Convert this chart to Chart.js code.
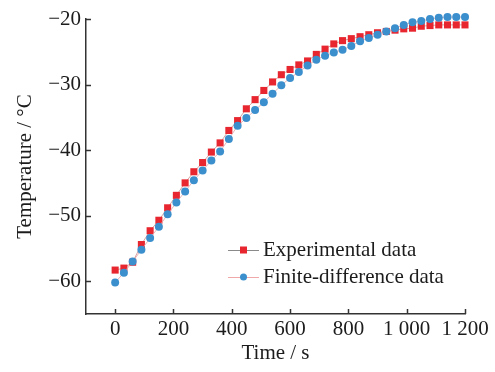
<!DOCTYPE html>
<html>
<head>
<meta charset="utf-8">
<script src="https://cdn.jsdelivr.net/npm/chart.js@4"></script>
<style>
  body { margin: 0; background: #fff; }
  #wrap { width: 495px; height: 372px; }
</style>
</head>
<body>
<div id="wrap"><canvas id="tempChart" width="495" height="372"></canvas></div>
<script>
const times = [0, 30, 60, 90, 120, 150, 180, 210, 240, 270, 300, 330, 360, 390, 420, 450, 480, 510, 540, 570,
    600, 630, 660, 690, 720, 750, 780, 810, 840, 870, 900, 930, 960, 990, 1020, 1050, 1080, 1110, 1140, 1170, 1200];
const experimental = [-58.3, -58.0, -57.1, -54.4, -52.3, -50.7, -48.8, -46.9, -45.0, -43.3, -41.9, -40.3, -38.9, -37.0,
    -35.5, -33.7, -32.3, -30.9, -29.6, -28.5, -27.7, -27.0, -26.4, -25.4, -24.6, -23.8, -23.3, -23.0, -22.7, -22.4,
    -22.1, -21.9, -21.7, -21.5, -21.4, -21.1, -21.0, -20.9, -20.9, -20.9, -20.9];
const finiteDiff = [-60.2, -58.7, -57.0, -55.2, -53.4, -51.7, -49.8, -48.0, -46.3, -44.6, -43.1, -41.6, -40.2, -38.3,
    -36.3, -35.1, -33.9, -32.7, -31.4, -30.1, -29.0, -28.1, -27.1, -26.2, -25.6, -25.1, -24.7, -24.1, -23.4, -22.9,
    -22.4, -21.9, -21.4, -20.9, -20.5, -20.3, -20.0, -19.8, -19.7, -19.7, -19.7];
const xTicks = [0, 200, 400, 600, 800, 1000, 1200];
const yTicks = [-60, -50, -40, -30, -20];

const FONT = "'Liberation Serif', 'Times New Roman', serif";
const INK = '#1c1c1c';
const AXIS = '#333';

function toPoints(ys) {
    return times.map((t, i) => ({ x: t, y: ys[i] }));
}

// tick marks point into the plot, so draw them ourselves
const innerTicks = {
    id: 'innerTicks',
    afterDraw(chart) {
        const { ctx, chartArea: a, scales } = chart;
        ctx.save();
        ctx.strokeStyle = AXIS;
        ctx.lineWidth = 1.5;
        scales.x.ticks.forEach(t => {
            const px = Math.round(scales.x.getPixelForValue(t.value)) + 0.5;
            ctx.beginPath(); ctx.moveTo(px, a.bottom); ctx.lineTo(px, a.bottom - 5); ctx.stroke();
        });
        scales.y.ticks.forEach(t => {
            const py = Math.round(scales.y.getPixelForValue(t.value)) + 0.5;
            ctx.beginPath(); ctx.moveTo(a.left, py); ctx.lineTo(a.left + 5, py); ctx.stroke();
        });
        ctx.restore();
    }
};

// legend sits inside the plot, lower right
const insideLegend = {
    id: 'insideLegend',
    afterDraw(chart) {
        const ctx = chart.ctx;
        const rows = [250, 277];
        ctx.save();
        chart.data.datasets.forEach((ds, i) => {
            const y = rows[i];
            ctx.strokeStyle = ds.legendLine;
            ctx.lineWidth = 1;
            ctx.beginPath(); ctx.moveTo(228, y + 0.5); ctx.lineTo(259, y + 0.5); ctx.stroke();
            ctx.fillStyle = ds.backgroundColor;
            if (ds.pointStyle === 'rect') {
                ctx.fillRect(240, y - 3.5, 7, 7);
            } else {
                ctx.beginPath(); ctx.arc(243.5, y, 3.5, 0, Math.PI * 2); ctx.fill();
            }
            ctx.fillStyle = INK;
            ctx.font = '21px ' + FONT;
            ctx.textBaseline = 'middle';
            ctx.fillText(ds.label, 263, y);
        });
        ctx.restore();
    }
};

new Chart(document.getElementById('tempChart').getContext('2d'), {
    type: 'line',
    data: {
        datasets: [
            {
                label: 'Experimental data',
                data: toPoints(experimental),
                borderColor: 'rgba(205,140,140,0.8)',
                legendLine: '#8a8a8a',
                backgroundColor: '#e8262f',
                borderWidth: 1,
                pointStyle: 'rect',
                pointRadius: 5,
                pointBorderWidth: 0,
                order: 1,
                clip: false
            },
            {
                label: 'Finite-difference data',
                data: toPoints(finiteDiff),
                borderColor: 'rgba(225,160,165,0.8)',
                legendLine: '#f0a8a8',
                backgroundColor: '#3b8fcd',
                borderWidth: 1,
                pointStyle: 'circle',
                pointRadius: 4,
                pointBorderWidth: 0,
                order: 0,
                clip: false
            }
        ]
    },
    options: {
        responsive: false,
        animation: false,
        events: [],
        layout: { padding: { top: 19, right: 30, left: 0, bottom: 0 } },
        plugins: {
            legend: { display: false },
            tooltip: { enabled: false }
        },
        scales: {
            x: {
                type: 'linear',
                min: -100,
                max: 1200,
                afterBuildTicks: s => { s.ticks = xTicks.map(v => ({ value: v })); },
                afterFit: s => { s.height = 58; },
                grid: { display: false, drawTicks: false },
                border: { display: true, color: AXIS, width: 1.5 },
                ticks: {
                    color: INK,
                    padding: 3,
                    maxRotation: 0,
                    font: { family: FONT, size: 21 },
                    callback: v => String(v).replace(/\B(?=(\d{3})+(?!\d))/g, ' ')
                },
                title: {
                    display: true,
                    text: 'Time / s',
                    color: INK,
                    font: { family: FONT, size: 21 },
                    padding: { top: 0, bottom: 6 }
                }
            },
            y: {
                min: -65,
                max: -20,
                afterBuildTicks: s => { s.ticks = yTicks.map(v => ({ value: v })); },
                afterFit: s => { s.width = 86; },
                grid: { display: false, drawTicks: false },
                border: { display: true, color: AXIS, width: 1.5 },
                ticks: {
                    color: INK,
                    padding: 5,
                    font: { family: FONT, size: 21 },
                    callback: v => (v < 0 ? '\u2212' + Math.abs(v) : String(v))
                },
                title: {
                    display: true,
                    text: 'Temperature / °C',
                    color: INK,
                    font: { family: FONT, size: 21 },
                    padding: { top: 13, bottom: 0 }
                }
            }
        }
    },
    plugins: [innerTicks, insideLegend]
});
</script>
</body>
</html>
